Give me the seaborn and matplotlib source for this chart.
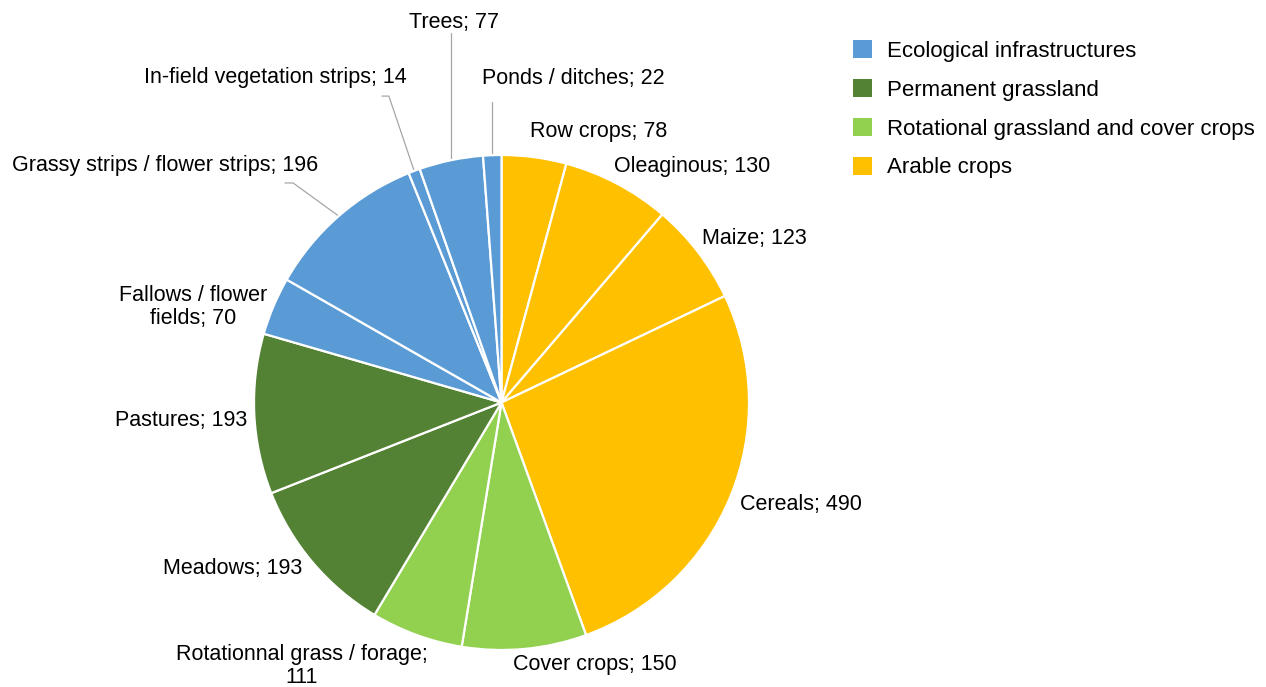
import matplotlib
matplotlib.use("Agg")
import matplotlib.pyplot as plt
from matplotlib.patches import Patch
import numpy as np
import seaborn as sns

# ---------------- data ----------------
categories = ["Row crops", "Oleaginous", "Maize", "Cereals", "Cover crops",
              "Rotationnal grass / forage", "Meadows", "Pastures",
              "Fallows / flower fields", "Grassy strips / flower strips",
              "In-field vegetation strips", "Trees", "Ponds / ditches"]
values = [78, 130, 123, 490, 150, 111, 193, 193, 70, 196, 14, 77, 22]
groups = ["Arable crops", "Arable crops", "Arable crops", "Arable crops",
          "Rotational grassland and cover crops", "Rotational grassland and cover crops",
          "Permanent grassland", "Permanent grassland",
          "Ecological infrastructures", "Ecological infrastructures",
          "Ecological infrastructures", "Ecological infrastructures",
          "Ecological infrastructures"]
legend_groups = ["Ecological infrastructures", "Permanent grassland",
                 "Rotational grassland and cover crops", "Arable crops"]

# ---------------- style ----------------
sns.set_theme(style="white")
plt.rcParams["font.family"] = ["Liberation Sans", "DejaVu Sans"]
plt.rcParams["text.color"] = "black"
group_colors = dict(zip(legend_groups,
                        ["#5B9BD5", "#548235", "#92D050", "#FFC000"]))
colors = [group_colors[g] for g in groups]

# label text as shown (line breaks are layout)
label_texts = ["Row crops; 78", "Oleaginous; 130", "Maize; 123", "Cereals; 490",
               "Cover crops; 150", "Rotationnal grass / forage;\n111",
               "Meadows; 193", "Pastures; 193", "Fallows / flower\nfields; 70",
               "Grassy strips / flower strips; 196",
               "In-field vegetation strips; 14", "Trees; 77",
               "Ponds / ditches; 22"]
# label layout in pie-radius units (x, y, ha)
label_layout = [(0.115, 1.093, "left"), (0.455, 0.952, "left"),
                (0.810, 0.661, "left"), (0.964, -0.414, "left"),
                (0.046, -1.057, "left"), (-0.808, -1.065, "center"),
                (-0.806, -0.669, "right"), (-1.028, -0.071, "right"),
                (-1.246, 0.386, "center"), (-0.741, 0.956, "right"),
                (-0.382, 1.315, "right"), (-0.192, 1.537, "center"),
                (-0.079, 1.311, "left")]
# leader lines: index -> points after the wedge edge
leaders = {
    9: [(-0.842, 0.887), (-0.875, 0.887)],
    10: [(-0.455, 1.238), (-0.483, 1.238)],
    11: [None, 1.493],
    12: [None, 1.214],
}

W, H = 1266, 687
fig = plt.figure(figsize=(W / 100, H / 100), dpi=100)
cx, cy, R = 501.5, 402.5, 247.5
ax = fig.add_axes([(cx - R) / W, (H - cy - R) / H, 2 * R / W, 2 * R / H])

wedges, _ = ax.pie(values, colors=colors, startangle=90, counterclock=False,
                   radius=1.0,
                   wedgeprops=dict(edgecolor="white", linewidth=1.6))
ax.set_xlim(-1, 1)
ax.set_ylim(-1, 1)
ax.set_aspect("equal")
ax.axis("off")

for i, (txt, (x, y, ha)) in enumerate(zip(label_texts, label_layout)):
    ax.text(x, y, txt, ha=ha, va="center", fontsize=15.5, color="black",
            linespacing=1.1, clip_on=False, multialignment="center")
    if i in leaders:
        w = wedges[i]
        mid = np.deg2rad((w.theta1 + w.theta2) / 2)
        ex, ey = np.cos(mid), np.sin(mid)
        pts = leaders[i]
        if pts[0] is None:
            xs, ys = [ex, ex], [ey, pts[1]]
        else:
            xs = [ex] + [p[0] for p in pts]
            ys = [ey] + [p[1] for p in pts]
        ax.plot(xs, ys, color="#A6A6A6", linewidth=0.9, clip_on=False,
                zorder=0)

handles = [Patch(facecolor=group_colors[g], edgecolor="none")
           for g in legend_groups]
leg = fig.legend(handles, legend_groups, loc="upper left",
                 bbox_to_anchor=(853 / W, 1 - 40.5 / H),
                 frameon=False, fontsize=16, handlelength=0.86,
                 handleheight=0.86, handletextpad=0.68, labelspacing=0.77,
                 borderpad=0, borderaxespad=0)
for t in leg.get_texts():
    t.set_color("black")

fig.savefig("out.png", dpi=100)
